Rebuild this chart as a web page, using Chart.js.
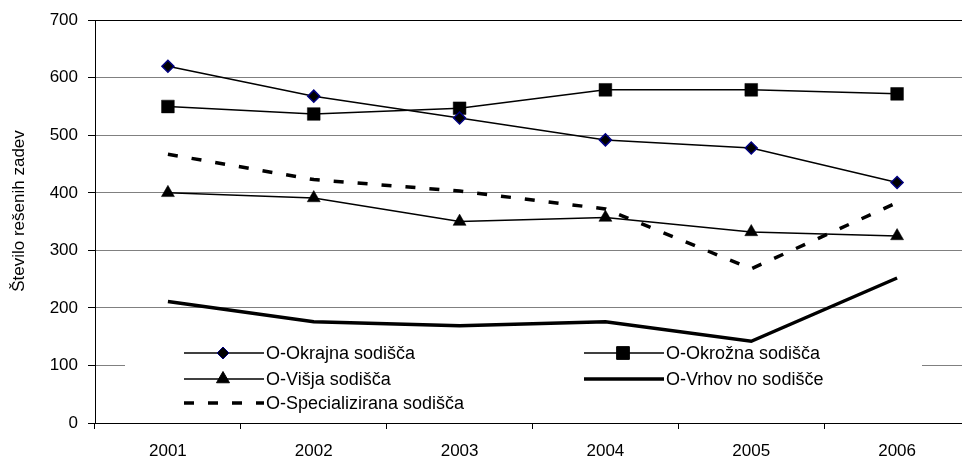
<!DOCTYPE html>
<html>
<head>
<meta charset="utf-8">
<script src="https://cdn.jsdelivr.net/npm/chart.js@4.4.1/dist/chart.umd.min.js"></script>
<style>
  html, body { margin: 0; padding: 0; background: #fff; }
  #wrap { width: 962px; height: 458px; overflow: hidden; }
</style>
</head>
<body>
<div id="wrap"><canvas id="chart1" width="980" height="458"></canvas></div>
<script>
// data
const years = ['2001', '2002', '2003', '2004', '2005', '2006'];
const okrajna = [620, 568, 530, 492, 478, 418];
const okrozna = [550, 537, 547, 579, 579, 572];
const visja = [400, 391, 350, 357, 332, 325];
const vrhovno = [211, 176, 169, 176, 142, 252];
const specializirana = [467, 423, 403, 372, 268, 383];
const yTicks = [0, 100, 200, 300, 400, 500, 600, 700];

const FONT = '"Liberation Sans", Arial, sans-serif';

function $(sel){ return document.querySelector(sel); }

// y title + legend drawn inside the plot, like the original
const extras = {
  id: 'extras',
  afterDraw(chart){
    const ctx = chart.ctx;
    ctx.save();
    ctx.fillStyle = '#000';
    ctx.font = '17px ' + FONT;
    ctx.textAlign = 'center';
    ctx.textBaseline = 'middle';
    ctx.translate(19, 211);
    ctx.rotate(-Math.PI / 2);
    ctx.fillText('Število rešenih zadev', 0, 0);
    ctx.restore();

    // legend box
    ctx.save();
    ctx.fillStyle = '#fff';
    ctx.fillRect(125, 344, 797, 72);
    const cols = [184, 584];
    const rows = [353, 379, 403];
    ctx.font = '18px ' + FONT;
    ctx.textBaseline = 'middle';
    ctx.textAlign = 'left';
    chart.data.datasets.forEach((ds, i) => {
      const x = cols[i % 2], y = rows[Math.floor(i / 2)];
      ctx.save();
      ctx.strokeStyle = ds.borderColor;
      ctx.lineWidth = ds.borderWidth;
      ctx.setLineDash(ds.borderDash || []);
      ctx.beginPath();
      ctx.moveTo(x, y);
      ctx.lineTo(x + 80, y);
      ctx.stroke();
      ctx.restore();
      if (ds.pointRadius) {
        ctx.save();
        ctx.fillStyle = ds.pointBackgroundColor;
        ctx.strokeStyle = ds.pointBorderColor;
        Chart.helpers.drawPoint(ctx, {
          pointStyle: ds.pointStyle, radius: ds.pointRadius,
          rotation: 0, borderWidth: ds.pointBorderWidth
        }, x + 39, y);
        ctx.restore();
      }
      ctx.fillStyle = '#000';
      ctx.fillText(ds.label, x + 82, y + 1);
    });
    ctx.restore();
  }
};

const line = (label, data, extra) => Object.assign({
  label, data,
  borderColor: '#000', borderWidth: 1.5,
  pointRadius: 0, pointHoverRadius: 0,
  pointBackgroundColor: '#000', pointBorderColor: '#000', pointBorderWidth: 1,
  tension: 0, fill: false
}, extra);

const chart = new Chart($('#chart1').getContext('2d'), {
  type: 'line',
  data: {
    labels: years,
    datasets: [
      line('O-Okrajna sodišča', okrajna, { pointStyle: 'rectRot', pointRadius: 6, pointBorderColor: '#000080', pointBorderWidth: 1.5 }),
      line('O-Okrožna sodišča', okrozna, { pointStyle: 'rect', pointRadius: 9, pointBorderWidth: 0.5 }),
      line('O-Višja sodišča', visja, { pointStyle: 'triangle', pointRadius: 7.5, pointBorderWidth: 0.5 }),
      line('O-Vrhov no sodišče', vrhovno, { borderWidth: 3.5 }),
      line('O-Specializirana sodišča', specializirana, { borderWidth: 3.5, borderDash: [10, 14] })
    ]
  },
  options: {
    responsive: false,
    animation: false,
    layout: { padding: { left: 0, top: 19, right: 10, bottom: 0 } },
    plugins: { legend: { display: false }, tooltip: { enabled: false } },
    scales: {
      x: {
        offset: true,
        grid: { offset: true, drawOnChartArea: false, tickLength: 6, tickColor: '#000', lineWidth: 1 },
        border: { color: '#000', width: 1 },
        ticks: { color: '#000', font: { family: FONT, size: 17 }, padding: 12, maxRotation: 0 },
        afterFit(s){ s.height = 35; }
      },
      y: {
        min: 0, max: 700,
        afterBuildTicks(s){ s.ticks = yTicks.map(v => ({ value: v })); },
        grid: {
          color: c => (c.tick && c.tick.value === 700) ? '#000' : '#808080',
          tickColor: '#000', tickLength: 7, lineWidth: 1
        },
        border: { color: '#000', width: 1 },
        ticks: { color: '#000', font: { family: FONT, size: 17 }, padding: 10 },
        afterFit(s){ s.width = 95; }
      }
    }
  },
  plugins: [extras]
});
</script>
</body>
</html>
